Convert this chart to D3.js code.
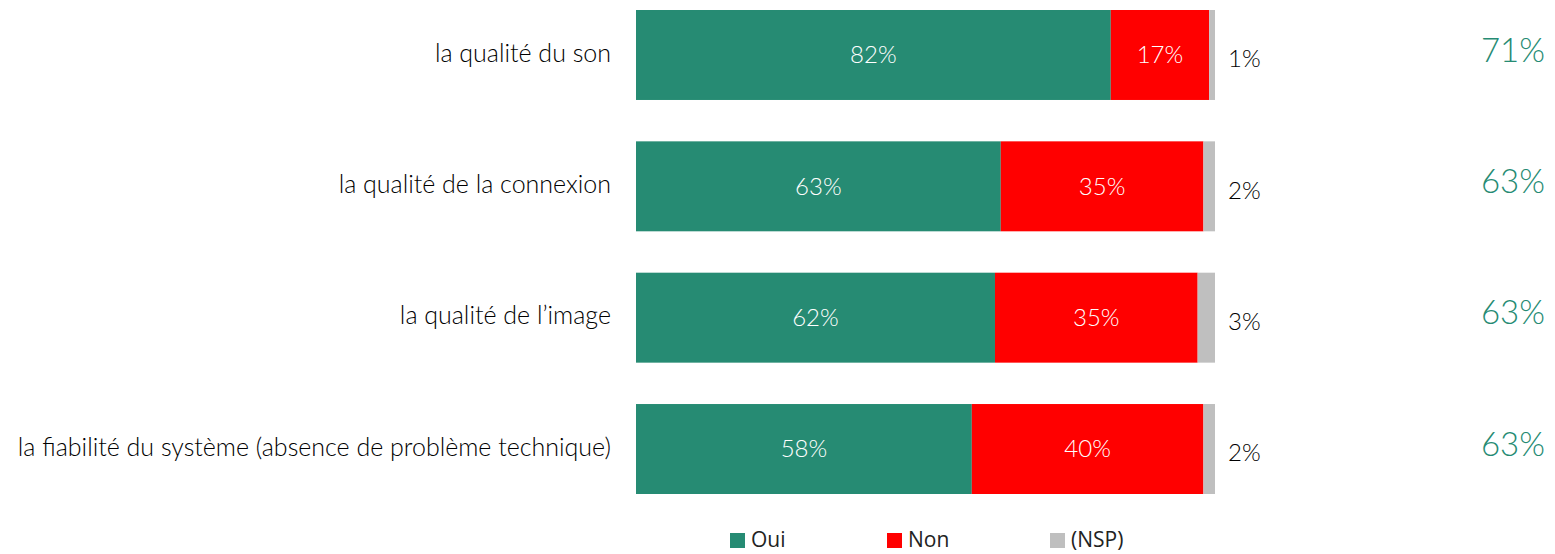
<!DOCTYPE html>
<html>
<head>
<meta charset="utf-8">
<script src="https://cdn.jsdelivr.net/npm/d3@7"></script>
<style>
  body { margin: 0; background: #fff; }
  text { font-family: Lato, "Open Sans", sans-serif; }
  .legend text { font-family: "Open Sans", sans-serif; }
</style>
</head>
<body>
<svg id="chart" width="1555" height="554"></svg>
<script>
const categories = [
    "la qualité du son",
    "la qualité de la connexion",
    "la qualité de l\u2019image",
    "la fiabilité du système (absence de problème technique)"
];
const oui = [82, 63, 62, 58];
const non = [17, 35, 35, 40];
const nsp = [1, 2, 3, 2];
const sideValues = [71, 63, 63, 63];
const seriesNames = ["Oui", "Non", "(NSP)"];
const colors = ["#268B73", "#FF0000", "#BFBFBF"];

const svg = d3.select("#chart");

// one row object per category, stacked on the three answers
const rows = categories.map((c, i) => ({ cat: c, Oui: oui[i], Non: non[i], "(NSP)": nsp[i] }));
const stack = d3.stack().keys(seriesNames)(rows);

const x = d3.scaleLinear().domain([0, 100]).range([636, 1215]);
const y = d3.scaleBand().domain(categories).range([10, 494]).paddingInner(0.315).paddingOuter(0);

svg.append("g")
    .selectAll("g")
    .data(stack)
    .join("g")
    .attr("fill", (d, i) => colors[i])
    .selectAll("rect")
    .data(d => d)
    .join("rect")
    .attr("x", d => x(d[0]))
    .attr("y", d => y(d.data.cat))
    .attr("width", d => x(d[1]) - x(d[0]))
    .attr("height", y.bandwidth());

// labels inside Oui / Non segments
svg.append("g")
    .selectAll("g")
    .data(stack.slice(0, 2))
    .join("g")
    .selectAll("text")
    .data(d => d)
    .join("text")
    .attr("x", d => (x(d[0]) + x(d[1])) / 2)
    .attr("y", d => y(d.data.cat) + y.bandwidth() / 2)
    .attr("dy", "0.35em")
    .attr("text-anchor", "middle")
    .attr("fill", "#fff")
    .attr("font-size", 24)
    .attr("font-weight", 300)
    .text(d => (d[1] - d[0]) + "%");

// NSP labels outside the bar
svg.append("g")
    .selectAll("text")
    .data(rows)
    .join("text")
    .attr("x", x(100) + 13)
    .attr("y", d => y(d.cat) + y.bandwidth() / 2 + 4)
    .attr("dy", "0.35em")
    .attr("fill", "#000")
    .attr("font-size", 24)
    .attr("font-weight", 300)
    .text(d => d["(NSP)"] + "%");

// category labels
svg.append("g")
    .selectAll("text")
    .data(categories)
    .join("text")
    .attr("x", 611)
    .attr("y", d => y(d) + y.bandwidth() / 2 - 2)
    .attr("dy", "0.35em")
    .attr("text-anchor", "end")
    .attr("fill", "#000")
    .attr("font-size", 25)
    .attr("font-weight", 300)
    .text(d => d);

// far-right green values
svg.append("g")
    .selectAll("text")
    .data(sideValues)
    .join("text")
    .attr("x", 1545)
    .attr("y", (d, i) => y(categories[i]) + y.bandwidth() / 2 - 5)
    .attr("dy", "0.35em")
    .attr("text-anchor", "end")
    .attr("fill", "#268B73")
    .attr("font-size", 33)
    .attr("font-weight", 300)
    .text(d => d + "%");

// legend
const legendX = [730, 887, 1050];
const legend = svg.append("g")
    .attr("class", "legend")
    .selectAll("g")
    .data(seriesNames)
    .join("g")
    .attr("transform", (d, i) => `translate(${legendX[i]},533)`);
legend.append("rect")
    .attr("width", 15)
    .attr("height", 15)
    .attr("fill", (d, i) => colors[i]);
legend.append("text")
    .attr("x", 21)
    .attr("y", 7)
    .attr("dy", "0.35em")
    .attr("fill", "#222")
    .attr("font-size", 21)
    .text(d => d);
</script>
</body>
</html>
